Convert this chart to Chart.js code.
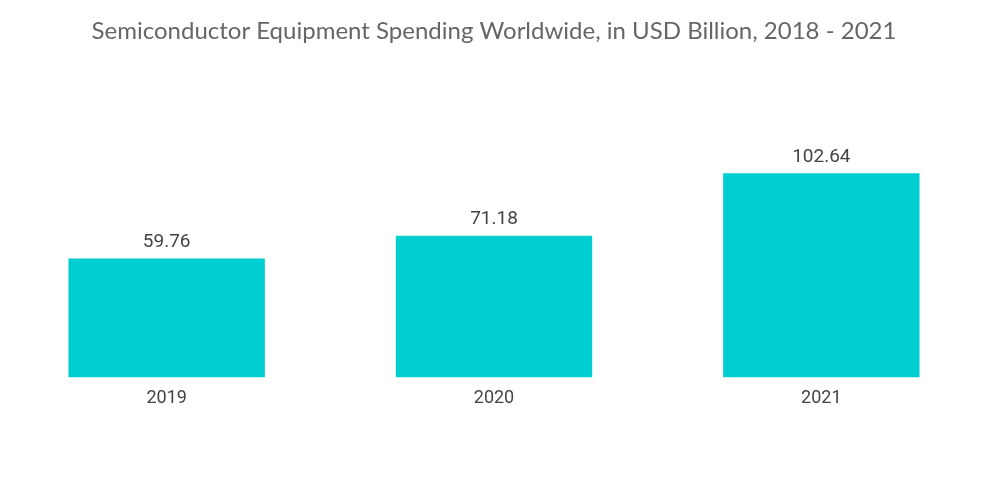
<!DOCTYPE html>
<html>
<head>
<meta charset="utf-8">
<script src="https://cdn.jsdelivr.net/npm/chart.js@4"></script>
<style>
html,body{margin:0;padding:0;background:#fff;}
#wrap{width:1000px;height:504px;}
</style>
</head>
<body>
<div id="wrap"><canvas id="c" width="1000" height="504"></canvas></div>
<script>
const titleText = "Semiconductor Equipment Spending Worldwide, in USD Billion, 2018 - 2021";
const categories = ["2019", "2020", "2021"];
const spending = [59.76, 71.18, 102.64];
const barColor = "#00CED1";

const valueLabels = {
  id: "valueLabels",
  afterDatasetsDraw(chart) {
    const ctx = chart.ctx;
    const meta = chart.getDatasetMeta(0);
    ctx.save();
    ctx.font = "19px Roboto";
    ctx.fillStyle = "#444444";
    ctx.textAlign = "center";
    ctx.textBaseline = "bottom";
    meta.data.forEach((bar, i) => {
      ctx.fillText(spending[i].toFixed(2), bar.x, bar.y - 7);
    });
    ctx.restore();
  }
};

new Chart(document.getElementById("c"), {
  type: "bar",
  data: {
    labels: categories,
    datasets: [{
      data: spending,
      backgroundColor: barColor,
      borderWidth: 0,
      categoryPercentage: 1,
      barPercentage: 0.6
    }]
  },
  options: {
    responsive: false,
    animation: false,
    devicePixelRatio: 1,
    layout: { padding: { left: 3, right: 15, top: 0, bottom: 93 } },
    plugins: {
      legend: { display: false },
      tooltip: { enabled: false },
      title: {
        display: true,
        text: titleText,
        color: "#666666",
        font: { family: "Lato", size: 24, weight: "normal" },
        padding: { top: 17, bottom: 93 }
      }
    },
    scales: {
      x: {
        grid: { display: false },
        border: { display: false },
        ticks: { color: "#444444", font: { family: "Roboto", size: 18 }, padding: 2 }
      },
      y: {
        display: false,
        min: 0,
        max: 120
      }
    }
  },
  plugins: [valueLabels]
});
</script>
</body>
</html>
